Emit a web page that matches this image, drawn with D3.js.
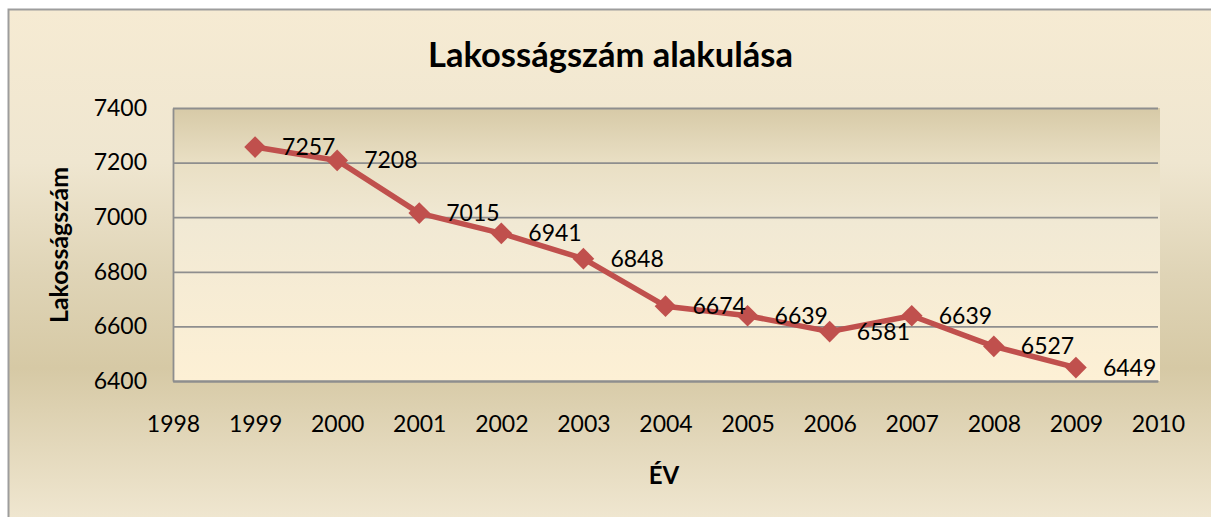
<!DOCTYPE html>
<html><head><meta charset="utf-8">
<script src="https://cdn.jsdelivr.net/npm/d3@7"></script>
<style>body{margin:0;background:#fff} svg{display:block}</style>
</head><body><svg id="c" width="1211" height="517"></svg>
<script>
const years = [1999, 2000, 2001, 2002, 2003, 2004, 2005, 2006, 2007, 2008, 2009];
const population = [7257, 7208, 7015, 6941, 6848, 6674, 6639, 6581, 6639, 6527, 6449];
const yTicks = [6400, 6600, 6800, 7000, 7200, 7400];
const xTicks = [1998, 1999, 2000, 2001, 2002, 2003, 2004, 2005, 2006, 2007, 2008, 2009, 2010];
const chartTitle = "Lakosságszám alakulása";
const xTitle = "ÉV";
const yTitle = "Lakosságszám";

const svg = d3.select("#c");
const L = 173, R = 1158, T = 108, B = 381;
const font = "Lato, 'Open Sans', sans-serif";
const red = "#c0504d";

const defs = svg.append("defs");
const og = defs.append("linearGradient").attr("id", "outerG")
  .attr("gradientUnits", "userSpaceOnUse").attr("x1", 0).attr("x2", 0).attr("y1", 9).attr("y2", 522);
[[0, "#f6ebd3"], [0.3, "#efe6d0"], [0.52, "#dfd4b6"], [0.7, "#d6c9a5"], [1, "#f0e7d1"]]
  .forEach(([o, c]) => og.append("stop").attr("offset", o).attr("stop-color", c));
const pg = defs.append("linearGradient").attr("id", "plotG")
  .attr("gradientUnits", "userSpaceOnUse").attr("x1", 0).attr("x2", 0).attr("y1", T).attr("y2", B);
[[0, "#d7caa7"], [0.2, "#e9dfc4"], [0.42, "#f1e9d4"], [1, "#fdf0d5"]]
  .forEach(([o, c]) => pg.append("stop").attr("offset", o).attr("stop-color", c));

svg.append("rect").attr("x", 8.5).attr("y", 9.5).attr("width", 1215).attr("height", 520)
  .attr("fill", "url(#outerG)").attr("stroke", "#9d9d9d").attr("stroke-width", 2);

svg.append("rect").attr("x", L).attr("y", T).attr("width", 1160 - L).attr("height", B - T)
  .attr("fill", "url(#plotG)");

const x = d3.scaleLinear().domain([1998, 2010]).range([L, R]);
const y = d3.scaleLinear().domain([6400, 7400]).range([B, T]);

// gridlines
const grid = svg.append("g").attr("transform", `translate(${L},0)`)
  .call(d3.axisLeft(y).tickValues(yTicks).tickSize(-(R - L)).tickFormat(""));
grid.select(".domain").remove();
grid.selectAll("line").attr("stroke", "#8e8e8e").attr("stroke-width", 1.8);

// y axis
const ya = svg.append("g").attr("transform", `translate(${L},0)`)
  .call(d3.axisLeft(y).tickValues(yTicks).tickSize(0).tickPadding(26).tickFormat(d3.format("d")));
ya.select(".domain").attr("stroke", "#8e8e8e").attr("stroke-width", 1.8);
ya.selectAll("text").attr("font-family", font).attr("font-size", "23px").attr("fill", "#000");

// x axis
const xa = svg.append("g").attr("transform", `translate(0,${B})`)
  .call(d3.axisBottom(x).tickValues(xTicks).tickSize(0).tickPadding(35).tickFormat(d3.format("d")));
xa.select(".domain").attr("stroke", "#8e8e8e").attr("stroke-width", 1.8);
xa.selectAll("text").attr("font-family", font).attr("font-size", "23px").attr("fill", "#000");

// line
svg.append("path").datum(years.map((yr, i) => [yr, population[i]]))
  .attr("fill", "none").attr("stroke", red).attr("stroke-width", 5.5).attr("stroke-linejoin", "round")
  .attr("d", d3.line().x(d => x(d[0])).y(d => y(d[1])));

// markers
svg.selectAll(".mk").data(years).enter().append("path").attr("class", "mk")
  .attr("d", d3.symbol(d3.symbolSquare, 235))
  .attr("transform", (yr, i) => `translate(${x(yr)},${y(population[i])}) rotate(45)`)
  .attr("fill", red);

// data labels
svg.selectAll(".dl").data(years).enter().append("text").attr("class", "dl")
  .attr("x", yr => x(yr) + 27).attr("y", (yr, i) => y(population[i]))
  .attr("dy", "0.35em").attr("font-family", font).attr("font-size", "23px").attr("fill", "#000")
  .text((yr, i) => population[i]);

function fit(sel, w) {
  sel.attr("font-size", "100px");
  const l = sel.node().getComputedTextLength();
  sel.attr("font-size", (100 * w / l) + "px");
  return sel;
}

fit(svg.append("text").attr("x", 610.5).attr("y", 67).attr("text-anchor", "middle")
  .attr("font-family", font).attr("font-weight", "bold").attr("fill", "#000").text(chartTitle), 365);

svg.append("text").attr("x", 664).attr("y", 484).attr("text-anchor", "middle")
  .attr("font-family", font).attr("font-weight", "bold").attr("font-size", "24px")
  .attr("fill", "#000").text(xTitle);

fit(svg.append("text").attr("transform", "translate(68,245) rotate(-90)").attr("text-anchor", "middle")
  .attr("font-family", font).attr("font-weight", "bold").attr("fill", "#000").text(yTitle), 156);
</script></body></html>
